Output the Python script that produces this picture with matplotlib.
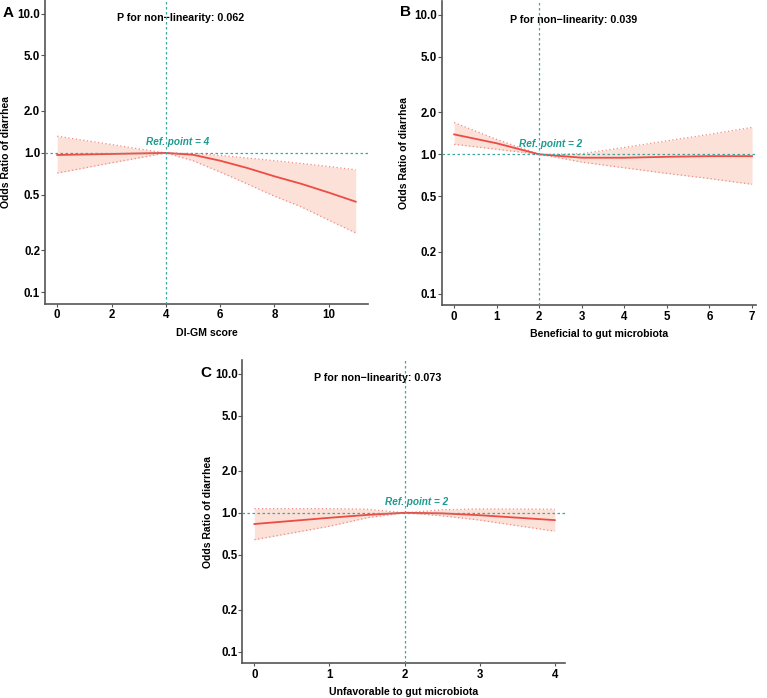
import matplotlib
matplotlib.use("Agg")
import matplotlib.pyplot as plt
from matplotlib.ticker import FixedLocator, NullLocator

plt.rcParams["font.family"] = ["Liberation Sans", "DejaVu Sans"]
plt.rcParams["font.weight"] = "bold"

# Panel A: DI-GM score
a_x = [0, 1, 2, 3, 4, 5, 6, 7, 8, 9, 10, 11]
a_or = [0.967, 0.975, 0.983, 0.992, 1.0, 0.97, 0.88, 0.78, 0.68, 0.60, 0.52, 0.447]
a_lo = [0.717, 0.78, 0.85, 0.92, 1.0, 0.88, 0.73, 0.60, 0.49, 0.41, 0.33, 0.267]
a_hi = [1.318, 1.23, 1.15, 1.07, 1.0, 0.99, 0.96, 0.92, 0.88, 0.84, 0.80, 0.757]

# Panel B: beneficial to gut microbiota
b_x = [0, 1, 2, 3, 4, 5, 6, 7]
b_or = [1.39, 1.20, 1.0, 0.946, 0.945, 0.96, 0.97, 0.97]
b_lo = [1.18, 1.087, 1.0, 0.88, 0.80, 0.73, 0.67, 0.61]
b_hi = [1.69, 1.28, 1.0, 1.01, 1.12, 1.25, 1.39, 1.56]

# Panel C: unfavorable to gut microbiota
c_x = [0, 1, 1.5, 2, 2.5, 3, 4]
c_or = [0.83, 0.92, 0.965, 1.0, 0.99, 0.96, 0.885]
c_lo = [0.64, 0.80, 0.92, 1.0, 0.95, 0.885, 0.737]
c_hi = [1.07, 1.07, 1.06, 1.0, 1.05, 1.065, 1.06]

y_ticks = [0.1, 0.2, 0.5, 1.0, 2.0, 5.0, 10.0]

LINE = "#EE4B45"
FILL = "#FBE1D8"
BAND = "#F08A85"
REF = "#3BA9A2"
SPINE = "#555555"


def draw_panel(fig, rect, x, orv, lo, hi, ref, xlim, xticks, xlabel, pval, letter,
               ylab_x, letter_xy):
    ax = fig.add_axes(rect)
    ax.set_yscale("log")
    ax.fill_between(x, lo, hi, color=FILL, lw=0, zorder=1)
    ax.plot(x, lo, color=BAND, lw=0.9, ls=(0, (1, 2)), zorder=2)
    ax.plot(x, hi, color=BAND, lw=0.9, ls=(0, (1, 2)), zorder=2)
    ax.plot(x, orv, color=LINE, lw=1.3, zorder=3)
    ax.axvline(ref, color=REF, lw=0.9, ls=(0, (2, 2)), zorder=4)
    ax.axhline(1.0, color=REF, lw=0.9, ls=(0, (2, 2)), zorder=4)
    ax.text(ref + (xlim[1] - xlim[0]) * 0.036, 1.19, f"Ref. point = {ref}",
            color="#1F9A90", fontsize=7.2, style="italic", weight="bold",
            ha="center", va="center", zorder=5)
    ax.text(0.42, 0.94, f"P for non\u2212linearity: {pval}", fontsize=7.7,
            weight="bold", ha="center", va="center", transform=ax.transAxes)
    ax.set_xlim(*xlim)
    ax.set_ylim(0.083, 12.5)
    ax.yaxis.set_major_locator(FixedLocator(y_ticks))
    ax.yaxis.set_minor_locator(NullLocator())
    ax.set_yticklabels([f"{t:.1f}" for t in y_ticks])
    ax.set_xticks(xticks)
    ax.tick_params(axis="y", labelsize=8.3, length=3, width=0.8, color=SPINE, pad=0.5)
    ax.tick_params(axis="x", labelsize=8.3, length=2, width=0.8, color=SPINE, pad=2)
    for lab in ax.get_xticklabels() + ax.get_yticklabels():
        lab.set_fontweight("bold")
    for side in ("top", "right"):
        ax.spines[side].set_visible(False)
    for side in ("left", "bottom"):
        ax.spines[side].set_color(SPINE)
        ax.spines[side].set_linewidth(1.2)
    ax.set_xlabel(xlabel, fontsize=7.6, weight="bold")
    ax.xaxis.set_label_coords(0.5, -0.079)
    ax.set_ylabel("Odds Ratio of diarrhea", fontsize=7.5, weight="bold")
    ax.yaxis.set_label_coords(ylab_x, 0.5)
    ax.text(letter_xy[0], letter_xy[1], letter, transform=ax.transAxes, fontsize=11,
            weight="bold", ha="center", va="center")
    return ax


fig = plt.figure(figsize=(7.67, 6.98), dpi=100)
draw_panel(fig, [0.0587, 0.565, 0.421, 0.435], a_x, a_or, a_lo, a_hi, 4,
           (-0.45, 11.45), [0, 2, 4, 6, 8, 10], "DI-GM score", "0.062", "A",
           -0.105, (-0.115, 0.957))
draw_panel(fig, [0.576, 0.563, 0.410, 0.435], b_x, b_or, b_lo, b_hi, 2,
           (-0.29, 7.1), list(range(8)), "Beneficial to gut microbiota", "0.039", "B",
           -0.104, (-0.114, 0.964))
draw_panel(fig, [0.316, 0.050, 0.421, 0.434], c_x, c_or, c_lo, c_hi, 2,
           (-0.16, 4.14), [0, 1, 2, 3, 4], "Unfavorable to gut microbiota", "0.073", "C",
           -0.091, (-0.112, 0.957))

fig.savefig("out.png", dpi=100)
